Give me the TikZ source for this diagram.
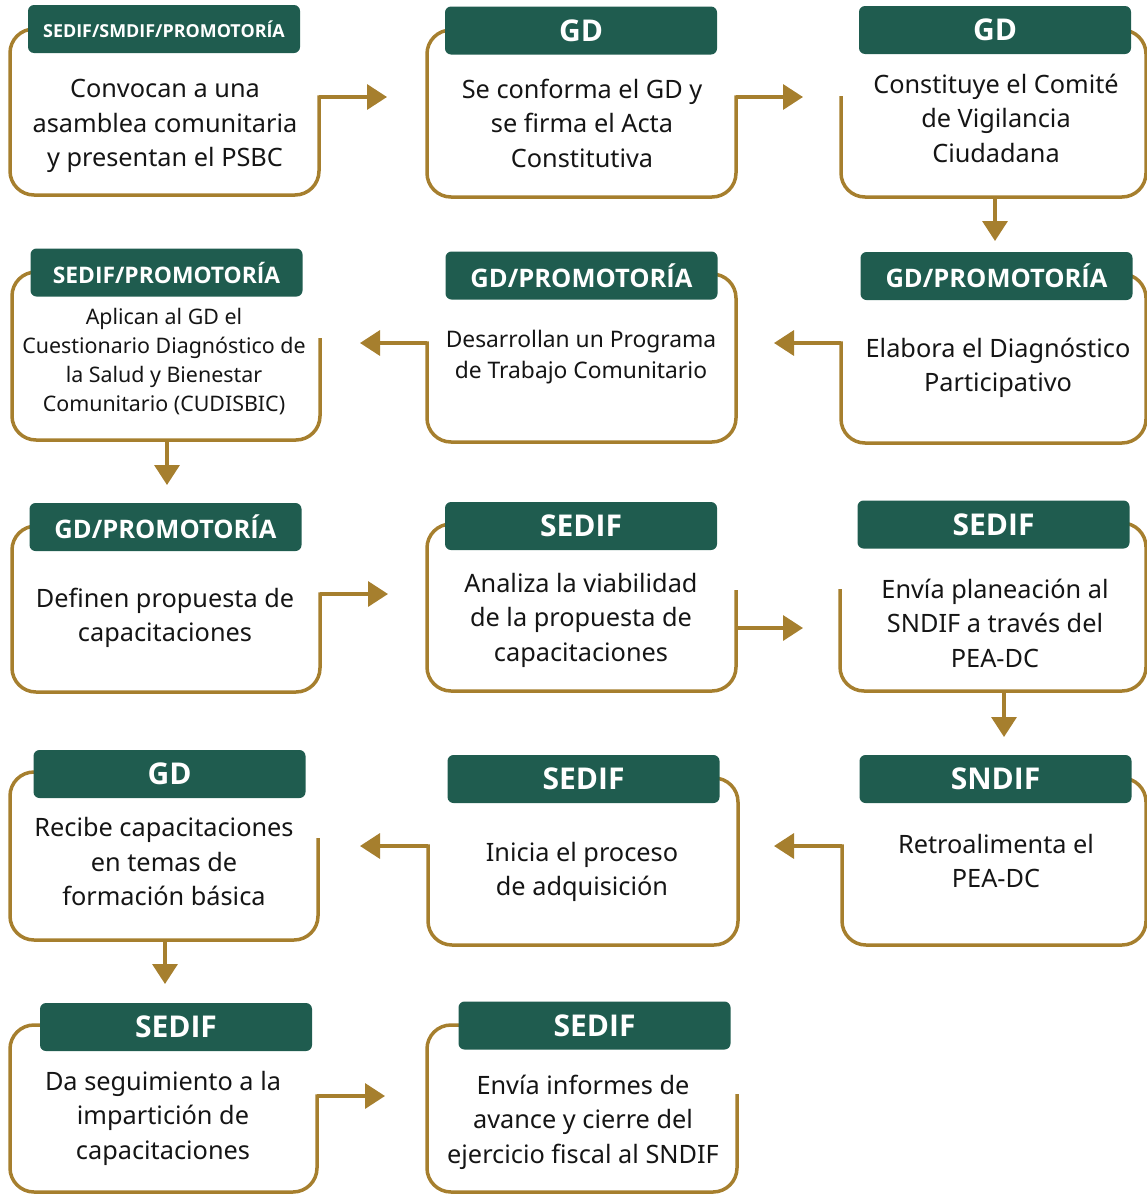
\documentclass[tikz,border=0pt]{standalone}
\usepackage{fontspec}
\setmainfont{Noto Sans}
\newfontfamily\hdfont{Open Sans}
\usetikzlibrary{arrows.meta}
\definecolor{hdrgreen}{HTML}{1F5C4F}
\definecolor{goldc}{HTML}{A67F2E}
\definecolor{txtc}{HTML}{151515}
\newcommand\bfsA{\fontsize{25.3}{34.5}\selectfont}
\newcommand\bfsB{\fontsize{21.4}{29}\selectfont}
\newcommand\bfsC{\fontsize{22.8}{31}\selectfont}
\tikzset{
  gline/.style={draw=goldc, line width=3.5pt, rounded corners=24pt},
  garrow/.style={draw=goldc, line width=3.5pt, -{Triangle[length=20pt,width=25pt]}},
  hdr/.style={fill=hdrgreen, rounded corners=6pt, minimum width=272pt, minimum height=48pt, text=white, inner sep=0pt, font=\hdfont\bfseries\fontsize{30}{32}\selectfont},
  hdrM/.style={hdr, font=\hdfont\bfseries\fontsize{25.5}{28}\selectfont},
  hdrS/.style={hdr, font=\hdfont\bfseries\fontsize{22.8}{25}\selectfont},
  hdrXS/.style={hdr, font=\hdfont\bfseries\fontsize{17.9}{22}\selectfont},
  body/.style={align=center, text=txtc, inner sep=0pt, font=\bfsA},
}
\begin{document}
\begin{tikzpicture}[x=1pt,y=-1pt]
\useasboundingbox (0,0) rectangle (1146,1194);
% ---------- gold borders ----------
% row 1
\draw[gline] (60,29) -- (10,29) -- (10,195) -- (319,195) -- (319,95.25);
\draw[gline] (480,30) -- (427,30) -- (427,197) -- (736,197) -- (736,95.25);
\draw[gline] (1100,30) -- (1146,30) -- (1146,197) -- (841,197) -- (841,96);
% row 2
\draw[gline] (60,272) -- (12,272) -- (12,440) -- (320,440) -- (320,338);
\draw[gline] (690,274) -- (736,274) -- (736,442) -- (427,442) -- (427,341.25);
\draw[gline] (1100,274) -- (1146,274) -- (1146,443) -- (841,443) -- (841,341.25);
% row 3
\draw[gline] (60,526) -- (12,526) -- (12,692) -- (320,692) -- (320,592.25);
\draw[gline] (480,524) -- (427,524) -- (427,691) -- (736,691) -- (736,590);
\draw[gline] (1100,523) -- (1146,523) -- (1146,691) -- (840,691) -- (840,589);
% row 4
\draw[gline] (60,772) -- (10,772) -- (10,940) -- (318,940) -- (318,838);
\draw[gline] (690,778) -- (738,778) -- (738,945) -- (428,945) -- (428,844.25);
\draw[gline] (1100,778) -- (1146,778) -- (1146,945) -- (842,945) -- (842,844.25);
% row 5
\draw[gline] (70,1025) -- (10,1025) -- (10,1192) -- (317,1192) -- (317,1094.25);
\draw[gline] (490,1025) -- (427,1025) -- (427,1192) -- (737,1192) -- (737,1094);
% ---------- headers ----------
\node[hdrXS] (h1) at (164,29) {SEDIF/SMDIF/PROMOTORÍA};
\node[hdr] (h2) at (581,30.5) {GD};
\node[hdr] (h3) at (995,30) {GD};
\node[hdrS] (h4) at (166.5,272.5) {SEDIF/PROMOTORÍA};
\node[hdrM] (h5) at (581.5,275.5) {GD/PROMOTORÍA};
\node[hdrM] (h6) at (996.5,276) {GD/PROMOTORÍA};
\node[hdrM] (h7) at (165.5,527) {GD/PROMOTORÍA};
\node[hdr] (h8) at (581,526) {SEDIF};
\node[hdr] (h9) at (993.5,524.5) {SEDIF};
\node[hdr] (h10) at (169.5,774) {GD};
\node[hdr] (h11) at (583.5,779) {SEDIF};
\node[hdr] (h12) at (995.5,779) {SNDIF};
\node[hdr] (h13) at (176,1027) {SEDIF};
\node[hdr] (h14) at (594.5,1025.5) {SEDIF};
% ---------- texts ----------
\node[body] (t1) at (165,126) {Convocan a una\\asamblea comunitaria\\y presentan el PSBC};
\node[body] (t2) at (582,123) {Se conforma el GD y\\se firma el Acta\\Constitutiva};
\node[body] (t3) at (996,118) {Constituye el Comité\\de Vigilancia\\Ciudadana};
\node[body, font=\bfsB] (t4) at (164,362) {Aplican al GD el\\Cuestionario Diagnóstico de\\la Salud y Bienestar\\Comunitario (CUDISBIC)};
\node[body, font=\bfsC] (t5) at (581,357) {Desarrollan un Programa\\de Trabajo Comunitario};
\node[body] (t6) at (998,368) {Elabora el Diagnóstico\\Participativo};
\node[body] (t7) at (165,618) {Definen propuesta de\\capacitaciones};
\node[body] (t8) at (581,620) {Analiza la viabilidad\\de la propuesta de\\capacitaciones};
\node[body] (t9) at (995,623) {Envía planeación al\\SNDIF a través del\\PEA-DC};
\node[body] (t10) at (164,862) {Recibe capacitaciones\\en temas de\\formación básica};
\node[body] (t11) at (582,872) {Inicia el proceso\\de adquisición};
\node[body] (t12) at (996,861) {Retroalimenta el\\PEA-DC};
\node[body] (t13) at (163,1118) {Da seguimiento a la\\impartición de\\capacitaciones};
\node[body] (t14) at (583,1122) {Envía informes de\\avance y cierre del\\ejercicio fiscal al SNDIF};
% ---------- connectors ----------
\coordinate (s1) at (319,97);   \coordinate (e1) at (387,97);
\coordinate (s2) at (736,97);   \coordinate (e2) at (803,97);
\coordinate (s3) at (995,197);  \coordinate (e3) at (995,241);
\coordinate (s6) at (841,343);  \coordinate (e6) at (774,343);
\coordinate (s5) at (427,343);  \coordinate (e5) at (360,343);
\coordinate (s4) at (167,440);  \coordinate (e4) at (167,485);
\coordinate (s7) at (320,594);  \coordinate (e7) at (388,594);
\coordinate (s8) at (736,628);  \coordinate (e8) at (803,628);
\coordinate (s9) at (1004,691); \coordinate (e9) at (1004,737);
\coordinate (s12) at (842,846); \coordinate (e12) at (774,846);
\coordinate (s11) at (428,846); \coordinate (e11) at (360,846);
\coordinate (s10) at (165,940); \coordinate (e10) at (165,984);
\coordinate (s13) at (317,1096); \coordinate (e13) at (385,1096);
\foreach \i in {1,2,3,4,5,6,7,8,9,10,11,12,13}{
  \draw[garrow] (s\i) -- (e\i);
}
\end{tikzpicture}
\end{document}
